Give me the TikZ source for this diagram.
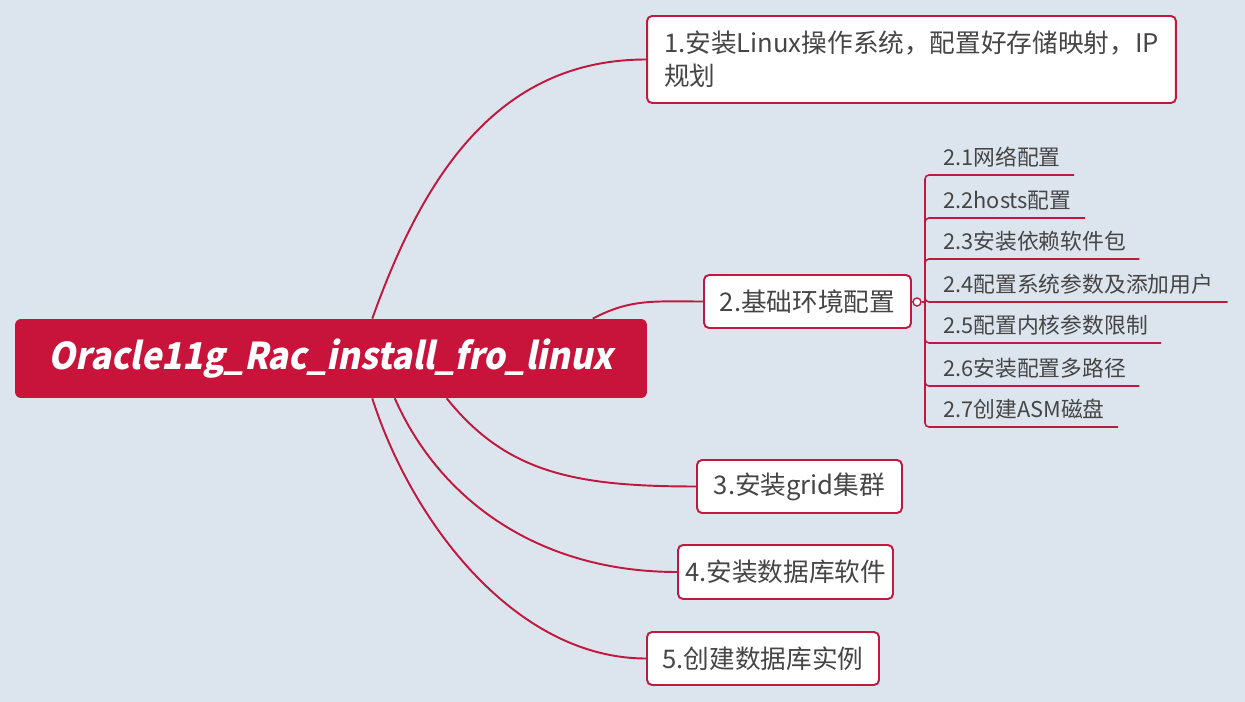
\documentclass[tikz,border=0pt]{standalone}
\usepackage{fontspec}
\setmainfont{Noto Sans CJK SC}
\newfontfamily\rootfont[FakeSlant=0.2, FakeStretch=0.93]{Noto Sans CJK SC}
\usetikzlibrary{calc}
\definecolor{mapred}{HTML}{C8143A}
\definecolor{linered}{HTML}{C0183E}
\definecolor{textgray}{HTML}{454545}
\definecolor{paper}{HTML}{DCE5EE}

\begin{document}
\begin{tikzpicture}[x=0.02cm, y=-0.02cm,
    every node/.style={text=textgray, font=\fontsize{14.6}{18.7}\selectfont},
    topic/.style={draw=linered, line width=1.1pt, fill=white, rounded corners=0.1cm, inner xsep=0.14cm, text centered},
    rootbox/.style={fill=mapred, rounded corners=0.12cm, text=white, inner xsep=0.1cm, font=\rootfont\bfseries\fontsize{21}{26}\selectfont},
    leaf/.style={anchor=base west, inner sep=0pt, font=\fontsize{12.4}{15}\selectfont},
    branch/.style={draw=linered, line width=1.1pt},
    twig/.style={draw=linered, line width=0.9pt, rounded corners=0.08cm}]
      \fill[paper] (0,0) rectangle (1245,702);

      % Nodes
      \node[rootbox, minimum width=12.64cm, minimum height=1.58cm] (root) at (331,358.5) {Oracle11g\_Rac\_install\_fro\_linux};
      \node[topic, align=left, minimum width=10.58cm, minimum height=1.74cm] (install) at (911.5,59.5) {1.安装Linux操作系统，配置好存储映射，IP\\规划};
      \node[topic, minimum width=4.14cm, minimum height=1.06cm] (env) at (807.5,301.5) {2.基础环境配置};
      \node[topic, minimum width=4.1cm, minimum height=1.06cm] (grid) at (799.5,486.5) {3.安装grid集群};
      \node[topic, minimum width=4.3cm, minimum height=1.08cm] (dbsoft) at (785.5,572) {4.安装数据库软件};
      \node[topic, minimum width=4.64cm, minimum height=1.06cm] (dbinst) at (763,658.5) {5.创建数据库实例};

      \node[circle, draw=linered, line width=0.8pt, fill=white, inner sep=0pt, minimum size=0.16cm] (fold) at (917,302) {};
      \coordinate (hub) at (925,302);

      \node[leaf] (net) at (943,166) {2.1网络配置};
      \node[leaf] (hosts) at (943,209) {2.2hosts配置};
      \node[leaf] (pkgs) at (943,250) {2.3安装依赖软件包};
      \node[leaf] (users) at (943,293) {2.4配置系统参数及添加用户};
      \node[leaf] (limits) at (943,334) {2.5配置内核参数限制};
      \node[leaf] (paths) at (943,377) {2.6安装配置多路径};
      \node[leaf] (asm) at (943,418) {2.7创建ASM磁盘};

      % Edges
      \draw[branch] (root.44) .. controls +(50,-140) and +(-150,0) .. (install.west);
      \draw[branch] ($(root.north west)+(578,0)$) .. controls +(38,-20) and +(-50,0) .. (env.west);
      \draw[branch] (root.-19) .. controls +(60,75) and +(-120,0) .. (grid.west);
      \draw[branch] (root.-32) .. controls +(45,102) and +(-138,0) .. (dbsoft.west);
      \draw[branch] (root.-44) .. controls +(40,125) and +(-130,0) .. (dbinst.west);

      \draw[branch] (env.east) -- (fold.west);
      \draw[twig] (fold.east) -- (hub);
      \draw[twig] (hub) |- ($(net.base east)+(13,9)$);
      \draw[twig] (hub) |- ($(hosts.base east)+(13,9)$);
      \draw[twig] (hub) |- ($(pkgs.base east)+(13,9)$);
      \draw[twig] (hub) |- ($(users.base east)+(14,9)$);
      \draw[twig] (hub) |- ($(limits.base east)+(13,9)$);
      \draw[twig] (hub) |- ($(paths.base east)+(13,9)$);
      \draw[twig] (hub) |- ($(asm.base east)+(13,9)$);
    \end{tikzpicture}
\end{document}
